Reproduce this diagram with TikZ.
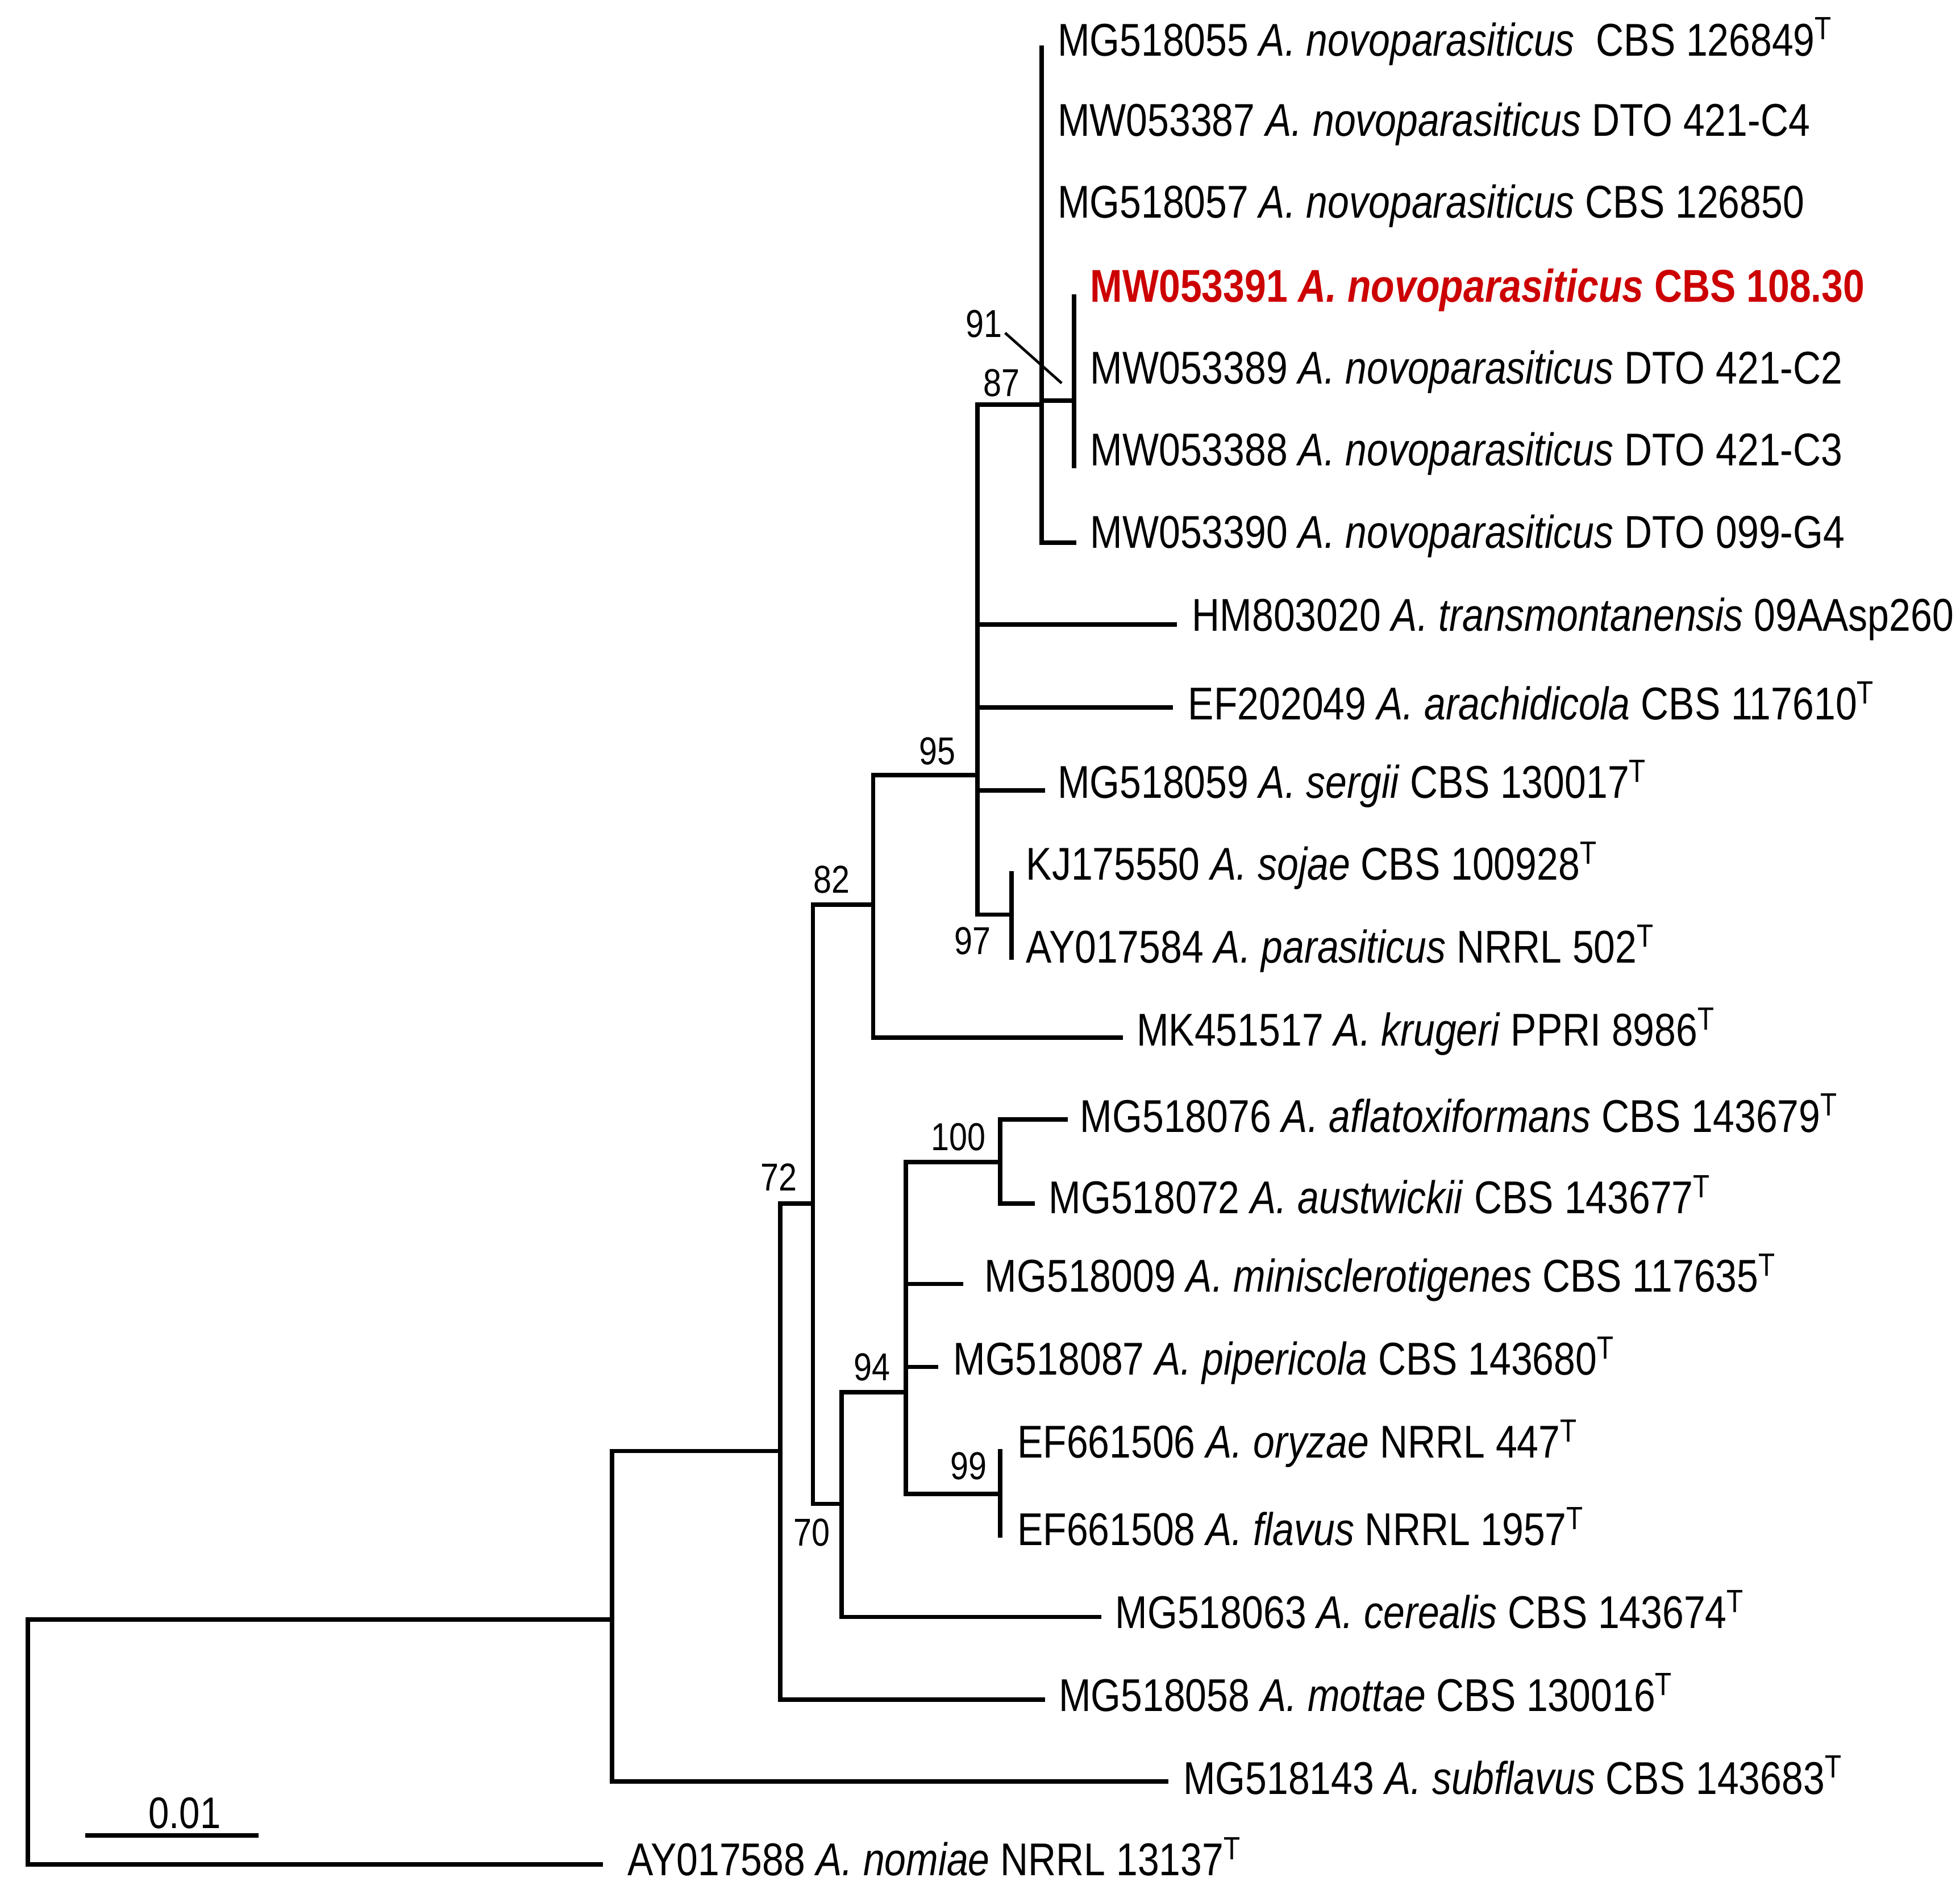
\documentclass[tikz,border=0pt]{standalone}
\usepackage{fontspec}
\setmainfont{Liberation Sans}[FakeStretch=0.84]
\definecolor{hl}{RGB}{204,0,0}
\begin{document}
\begin{tikzpicture}[x=0.01cm,y=-0.01cm,line width=1pt,
  lab/.style={anchor=west,inner sep=0pt,font=\fontsize{10.4}{12}\selectfont},
  br/.style={line cap=rect}]
\useasboundingbox (0,0) rectangle (1560,1504);
\newcommand{\T}{\textsuperscript{T}}
% leaves labels
\node[lab] (l1) at (840,33) {MG518055 \textit{A. novoparasiticus}\ \ CBS 126849\T};
\node[lab] (l2) at (840,99) {MW053387 \textit{A. novoparasiticus} DTO 421-C4};
\node[lab] (l3) at (840,164) {MG518057 \textit{A. novoparasiticus} CBS 126850};
\node[lab,text=hl,font=\fontsize{10.4}{12}\selectfont\bfseries] (l4) at (866,231) {MW053391 \textit{A. novoparasiticus} CBS 108.30};
\node[lab] (l5) at (866,296) {MW053389 \textit{A. novoparasiticus} DTO 421-C2};
\node[lab] (l6) at (866,361) {MW053388 \textit{A. novoparasiticus} DTO 421-C3};
\node[lab] (l7) at (866,427) {MW053390 \textit{A. novoparasiticus} DTO 099-G4};
\node[lab] (l8) at (947,493) {HM803020 \textit{A. transmontanensis} 09AAsp260};
\node[lab] (l9) at (944,558) {EF202049 \textit{A. arachidicola} CBS 117610\T};
\node[lab] (l10) at (840,624) {MG518059 \textit{A. sergii} CBS 130017\T};
\node[lab] (l11) at (815,689) {KJ175550 \textit{A. sojae} CBS 100928\T};
\node[lab] (l12) at (815,755) {AY017584 \textit{A. parasiticus} NRRL 502\T};
\node[lab] (l13) at (903,821) {MK451517 \textit{A. krugeri} PPRI 8986\T};
\node[lab] (l14) at (858,886) {MG518076 \textit{A. aflatoxiformans} CBS 143679\T};
\node[lab] (l15) at (833,951) {MG518072 \textit{A. austwickii} CBS 143677\T};
\node[lab] (l16) at (782,1017) {MG518009 \textit{A. minisclerotigenes} CBS 117635\T};
\node[lab] (l17) at (757,1083) {MG518087 \textit{A. pipericola} CBS 143680\T};
\node[lab] (l18) at (808,1149) {EF661506 \textit{A. oryzae} NRRL 447\T};
\node[lab] (l19) at (808,1215) {EF661508 \textit{A. flavus} NRRL 1957\T};
\node[lab] (l20) at (886,1281) {MG518063 \textit{A. cerealis} CBS 143674\T};
\node[lab] (l21) at (841,1347) {MG518058 \textit{A. mottae} CBS 130016\T};
\node[lab] (l22) at (940,1413) {MG518143 \textit{A. subflavus} CBS 143683\T};
\node[lab] (l23) at (498,1478) {AY017588 \textit{A. nomiae} NRRL 13137\T};
% tree
\draw[br] (478,1484) -| (22,1289) -- (487,1289);
\draw[br] (928,1418) -| (487,1155) -- (621,1155);
\draw[br] (830,1353) -| (621,958) -- (647,958);
\draw[br] (670,1197) -| (647,720) -- (695,720);
\draw[br] (892,826) -| (695,617) -- (778,617);
\draw[br] (829,322) -| (778,728) -- (805,728);
\draw[br] (805,695) -- (805,762);
\draw[br] (830,629) -- (778,629);
\draw[br] (932,563) -- (778,563);
\draw[br] (935,497) -- (778,497);
\draw[br] (829,38) |- (855,432);
\draw[br] (829,319) -- (855,319);
\draw[br] (855,236) -- (855,371);
\draw[line width=0.6pt] (800,265) -- (845,305);
\draw[br] (875,1287) -| (670,1108) -- (721,1108);
\draw[br] (796,1189) -| (721,925) -- (796,925);
\draw[br] (848,891) -| (796,958) -- (822,958);
\draw[br] (721,1022) -- (765,1022);
\draw[br] (721,1088) -- (745,1088);
\draw[br] (796,1155) -- (796,1222);
% supports
\tikzset{bs/.style={inner sep=0pt,font=\fontsize{8.8}{10}\selectfont}}
\node[bs] (s91) at (783,258) {91};
\node[bs] (s87) at (797,305) {87};
\node[bs] (s95) at (746,598) {95};
\node[bs] (s97) at (774,749) {97};
\node[bs] (s82) at (662,700) {82};
\node[bs] (s72) at (620,937) {72};
\node[bs] (s70) at (646,1220) {70};
\node[bs] (s94) at (694,1088) {94};
\node[bs] (s100) at (763,905) {100};
\node[bs] (s99) at (771,1167) {99};
% scale bar
\coordinate (sa) at (68,1461); \coordinate (sb) at (206,1461);
\draw (sa) -- (sb);
\node[bs,font=\fontsize{10}{12}\selectfont] (sl) at (147,1443) {0.01};
\end{tikzpicture}
\end{document}
